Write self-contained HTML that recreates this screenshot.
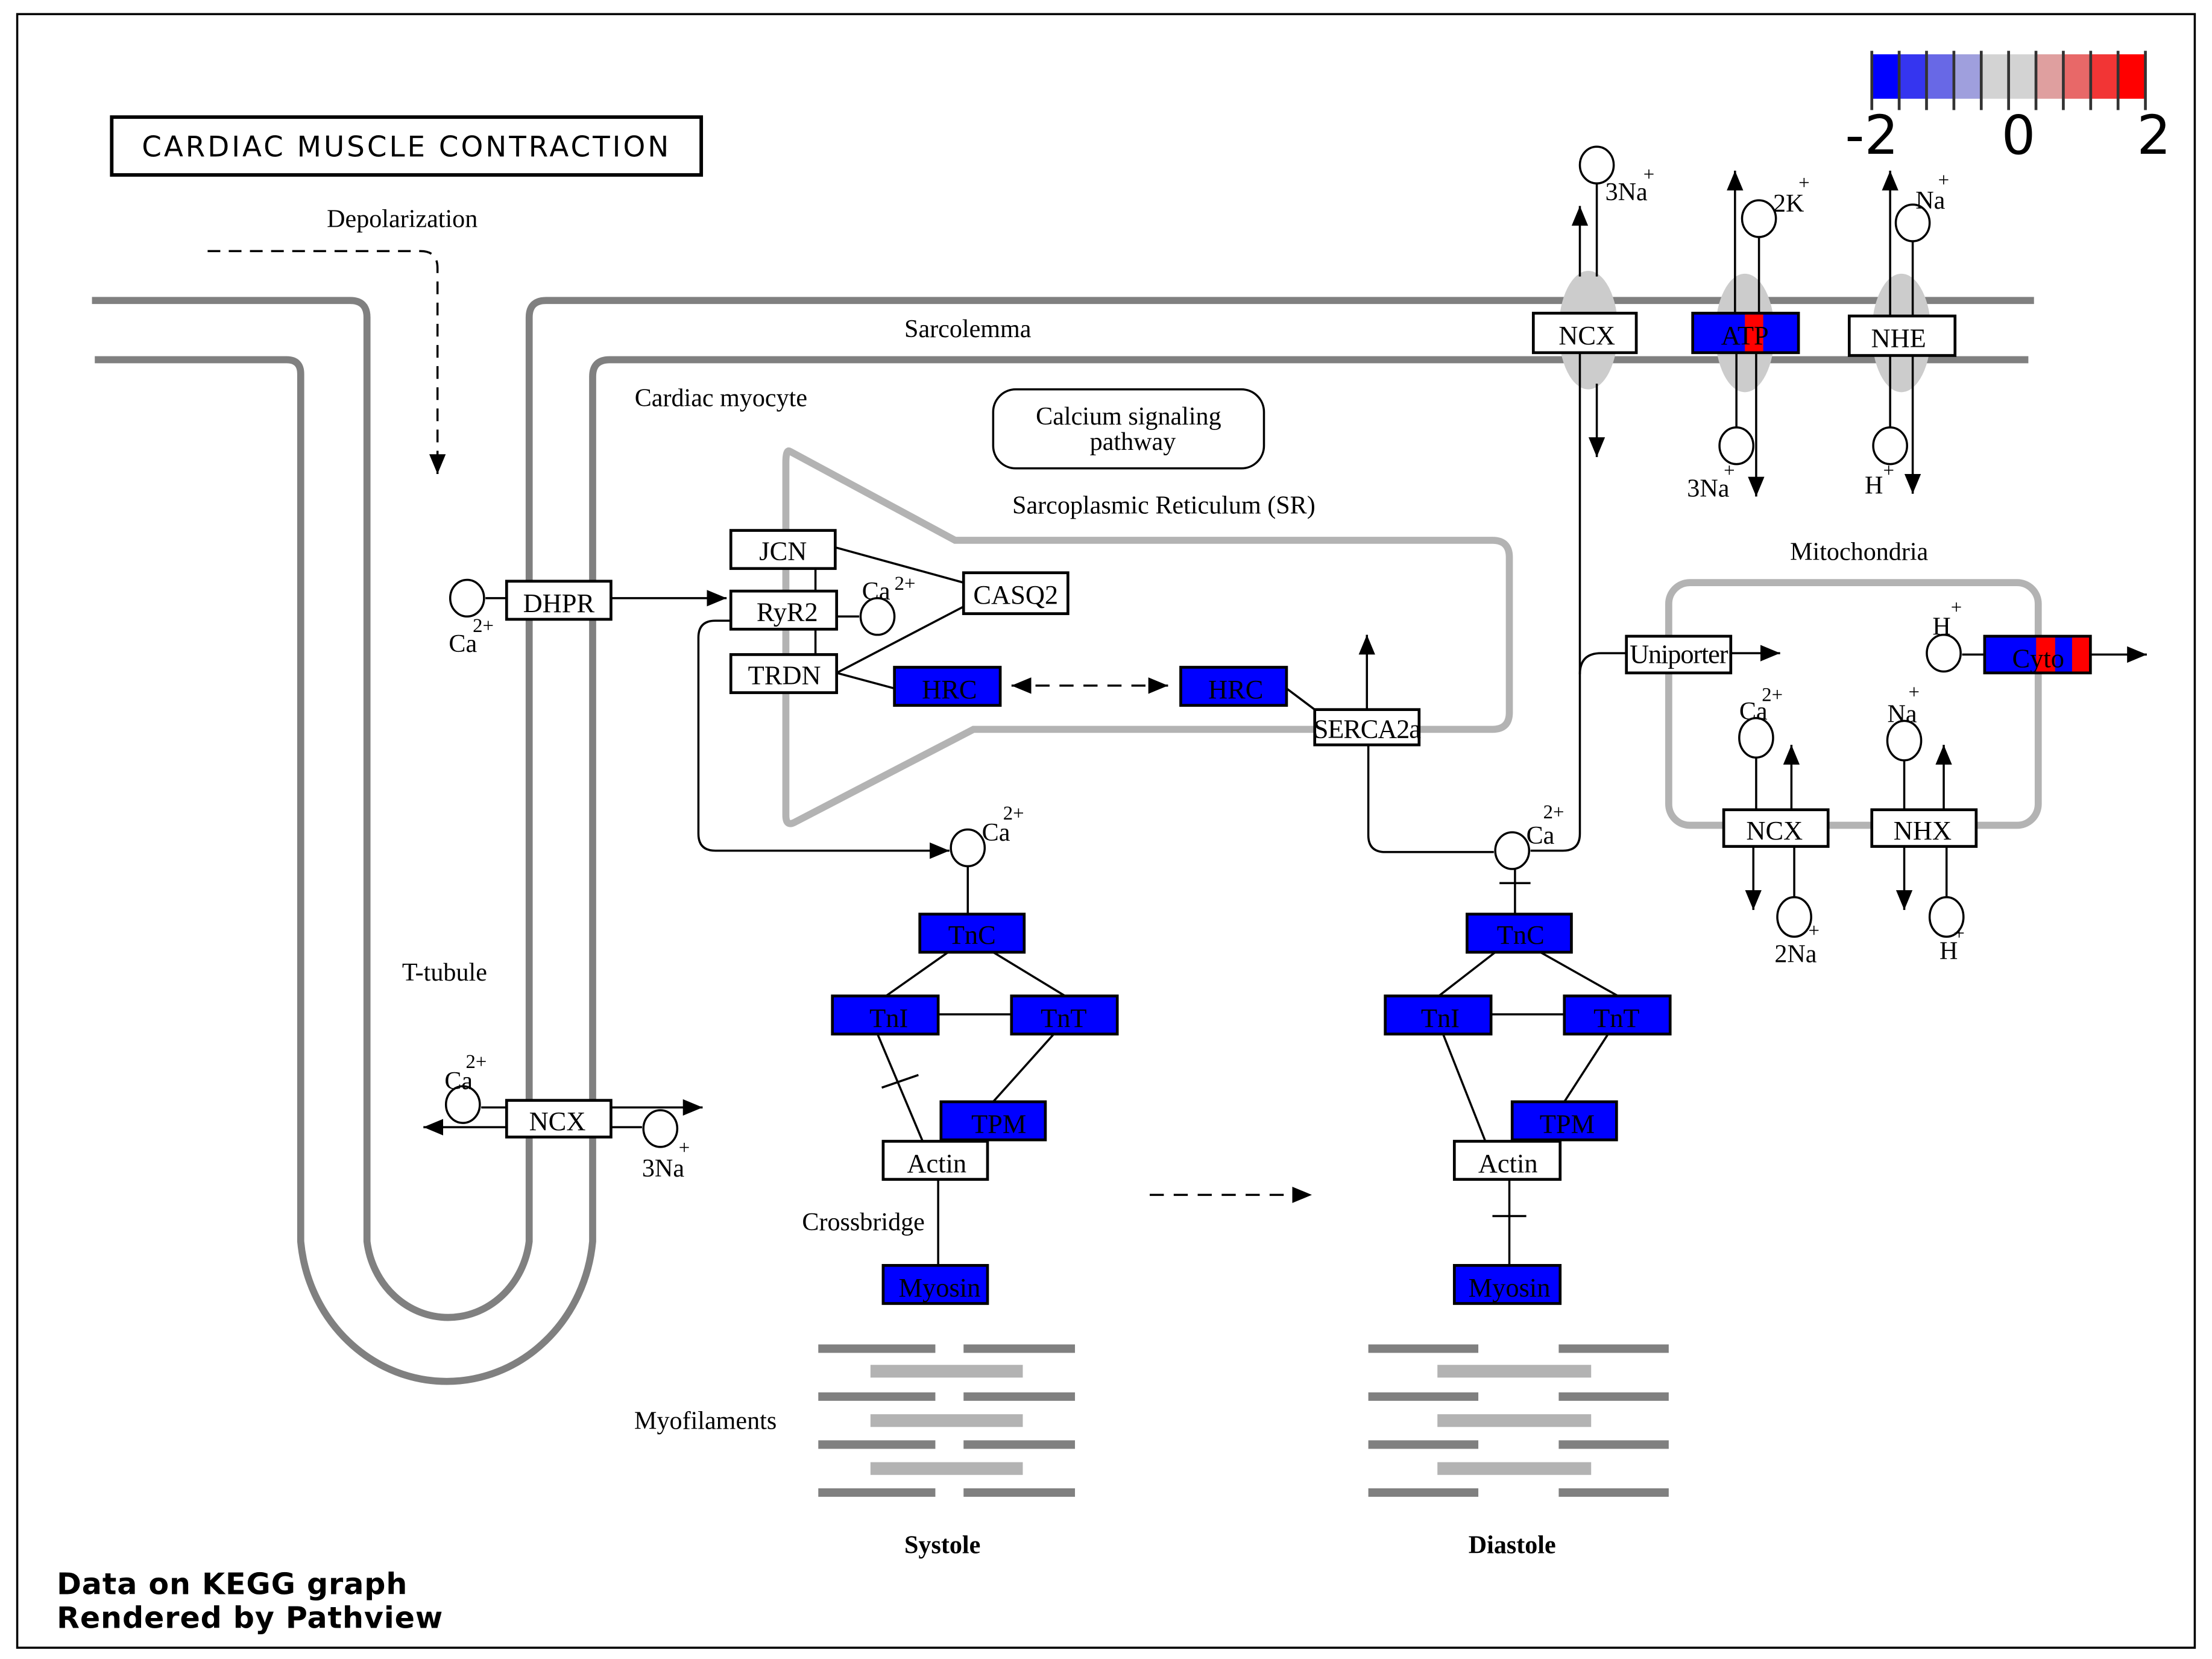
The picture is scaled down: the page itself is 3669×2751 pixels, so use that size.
<!DOCTYPE html>
<html><head><meta charset="utf-8"><style>
html,body{margin:0;padding:0;background:#fff;}
svg{display:block;}
text{font-family:"Liberation Serif","DejaVu Serif",serif;}
text.sans{font-family:"DejaVu Sans","Liberation Sans",sans-serif;}
</style></head><body>
<svg width="3669" height="2751" viewBox="0 0 1568 1176" xmlns="http://www.w3.org/2000/svg">
<defs>
<marker id="a" viewBox="0 0 12 12" refX="12" refY="6" markerWidth="14" markerHeight="14" orient="auto" markerUnits="userSpaceOnUse"><path d="M0,1 L12,6 L0,11 z" fill="#000"/></marker>
<marker id="as" viewBox="0 0 12 12" refX="0" refY="6" markerWidth="14" markerHeight="14" orient="auto" markerUnits="userSpaceOnUse"><path d="M12,1 L0,6 L12,11 z" fill="#000"/></marker>
</defs>
<rect x="0" y="0" width="1568" height="1176" fill="#fff"/>
<rect x="12" y="10" width="1544" height="1158" fill="none" stroke="#000" stroke-width="1.5"/>

<g>
<rect x="1327" y="38.5" width="19.4" height="31.5" fill="#0000ff"/>
<rect x="1346.4" y="38.5" width="19.4" height="31.5" fill="#3535f0"/>
<rect x="1365.8" y="38.5" width="19.4" height="31.5" fill="#6868e6"/>
<rect x="1385.2" y="38.5" width="19.4" height="31.5" fill="#9f9fdd"/>
<rect x="1404.6" y="38.5" width="38.8" height="31.5" fill="#d3d3d3"/>
<rect x="1443.4" y="38.5" width="19.4" height="31.5" fill="#df9f9f"/>
<rect x="1462.8" y="38.5" width="19.4" height="31.5" fill="#e86868"/>
<rect x="1482.2" y="38.5" width="19.4" height="31.5" fill="#f23535"/>
<rect x="1501.6" y="38.5" width="19.4" height="31.5" fill="#ff0000"/>
<g stroke="#333" stroke-width="2">
<line x1="1327" y1="36" x2="1327" y2="78"/><line x1="1346.4" y1="36" x2="1346.4" y2="78"/><line x1="1365.8" y1="36" x2="1365.8" y2="78"/><line x1="1385.2" y1="36" x2="1385.2" y2="78"/><line x1="1404.6" y1="36" x2="1404.6" y2="78"/><line x1="1424" y1="36" x2="1424" y2="78"/><line x1="1443.4" y1="36" x2="1443.4" y2="78"/><line x1="1462.8" y1="36" x2="1462.8" y2="78"/><line x1="1482.2" y1="36" x2="1482.2" y2="78"/><line x1="1501.6" y1="36" x2="1501.6" y2="78"/><line x1="1521" y1="36" x2="1521" y2="78"/>
</g>
<g font-size="38" fill="#000" text-anchor="middle">
<text class="sans" x="1327" y="109">-2</text><text class="sans" x="1431" y="109">0</text><text class="sans" x="1527" y="109">2</text>
</g>
</g>

<rect x="79" y="83" width="418" height="41" fill="#fff" stroke="#000" stroke-width="2.5"/>
<text class="sans" x="288" y="111" font-size="20" text-anchor="middle" letter-spacing="1.7">CARDIAC MUSCLE CONTRACTION</text>

<g fill="none" stroke="#808080" stroke-width="5">
<path d="M65,213 L248,213 Q260,213 260,225 L260,880 A58,62 0 0 0 375,880 L375,225 Q375,213 387,213 L1442,213"/>
<path d="M67,255 L203,255 Q213,255 213,265 L213,880 A104,110 0 0 0 420,880 L420,267 Q420,255 432,255 L1438,255"/>
</g>
<path d="M560,320 L677,383 L1058,383 Q1070,383 1070,395 L1070,505 Q1070,517 1058,517 L690,517 L563,583 Q557,586 557,578 L557,328 Q557,318 560,320 Z" fill="none" stroke="#b3b3b3" stroke-width="5"/>
<rect x="1183" y="413" width="262" height="172" rx="15" fill="none" stroke="#b3b3b3" stroke-width="5"/>
<g fill="#cccccc">
<ellipse cx="1126" cy="234" rx="21" ry="42"/><ellipse cx="1237" cy="236" rx="21" ry="42"/><ellipse cx="1348" cy="236" rx="21" ry="42"/>
</g>

<path d="M147,178 L298,178 Q310,178 310,190 L310,336" fill="none" stroke="#000" stroke-width="1.5" stroke-dasharray="9,6" marker-end="url(#a)"/>

<g font-size="18" fill="#000" text-anchor="middle">
<text x="285" y="161">Depolarization</text>
<text x="686" y="239">Sarcolemma</text>
<text x="511" y="288">Cardiac myocyte</text>
<text x="825" y="364">Sarcoplasmic Reticulum (SR)</text>
<text x="1318" y="397">Mitochondria</text>
<text x="315" y="695">T-tubule</text>
<text x="612" y="872">Crossbridge</text>
<text x="500" y="1013">Myofilaments</text>
<text x="668" y="1101" font-weight="bold">Systole</text>
<text x="1072" y="1101" font-weight="bold">Diastole</text>
</g>
<rect x="704" y="276" width="192" height="56" rx="16" fill="#fff" stroke="#000" stroke-width="1.5"/>
<text x="800" y="301" font-size="18" text-anchor="middle">Calcium signaling</text>
<text x="803" y="319" font-size="18" text-anchor="middle">pathway</text>

<g font-size="21" font-weight="bold">
<text class="sans" x="40" y="1130" letter-spacing="0.4">Data on KEGG graph</text>
<text class="sans" x="40" y="1154" letter-spacing="0.4">Rendered by Pathview</text>
</g>

<g stroke="#808080" stroke-width="6">
<line x1="580" y1="956" x2="663" y2="956"/><line x1="683" y1="956" x2="762" y2="956"/>
<line x1="580" y1="990" x2="663" y2="990"/><line x1="683" y1="990" x2="762" y2="990"/>
<line x1="580" y1="1024" x2="663" y2="1024"/><line x1="683" y1="1024" x2="762" y2="1024"/>
<line x1="580" y1="1058" x2="663" y2="1058"/><line x1="683" y1="1058" x2="762" y2="1058"/>
<line x1="970" y1="956" x2="1048" y2="956"/><line x1="1105" y1="956" x2="1183" y2="956"/>
<line x1="970" y1="990" x2="1048" y2="990"/><line x1="1105" y1="990" x2="1183" y2="990"/>
<line x1="970" y1="1024" x2="1048" y2="1024"/><line x1="1105" y1="1024" x2="1183" y2="1024"/>
<line x1="970" y1="1058" x2="1048" y2="1058"/><line x1="1105" y1="1058" x2="1183" y2="1058"/>
</g>
<g stroke="#b3b3b3" stroke-width="9">
<line x1="617" y1="972" x2="725" y2="972"/><line x1="617" y1="1007" x2="725" y2="1007"/><line x1="617" y1="1041" x2="725" y2="1041"/>
<line x1="1019" y1="972" x2="1128" y2="972"/><line x1="1019" y1="1007" x2="1128" y2="1007"/><line x1="1019" y1="1041" x2="1128" y2="1041"/>
</g>

<g fill="none" stroke="#000" stroke-width="1.5">
<line x1="344" y1="424" x2="359" y2="424"/>
<line x1="433" y1="424" x2="515" y2="424" marker-end="url(#a)"/>
<line x1="578" y1="403" x2="578" y2="419"/><line x1="578" y1="446" x2="578" y2="464"/>
<line x1="592" y1="388" x2="683" y2="413"/>
<line x1="593" y1="437" x2="609" y2="437"/>
<line x1="593" y1="477" x2="683" y2="430"/>
<line x1="593" y1="477" x2="634" y2="488"/>
<line x1="717" y1="486" x2="828" y2="486" stroke-dasharray="10,7" marker-start="url(#as)" marker-end="url(#a)"/>
<line x1="912" y1="488" x2="932" y2="503"/>
<line x1="969" y1="503" x2="969" y2="450" marker-end="url(#a)"/>
<path d="M970,528 L970,592 Q970,604 982,604 L1059,604"/>
<path d="M518,440 L507,440 Q495,440 495,452 L495,591 Q495,603 507,603 L673,603" marker-end="url(#a)"/>
<line x1="686" y1="614" x2="686" y2="648"/>
<line x1="672" y1="675" x2="628" y2="706"/><line x1="704" y1="675" x2="755" y2="706"/>
<line x1="665" y1="719" x2="717" y2="719"/>
<line x1="622" y1="733" x2="654" y2="809"/><line x1="625" y1="771" x2="651" y2="762"/>
<line x1="747" y1="733" x2="704" y2="781"/>
<line x1="665" y1="836" x2="665" y2="897"/>
<line x1="815" y1="847" x2="930" y2="847" stroke-dasharray="10,7" marker-end="url(#a)"/>
<line x1="1074" y1="616" x2="1074" y2="648"/><line x1="1063" y1="626" x2="1085" y2="626"/>
<line x1="1060" y1="675" x2="1020" y2="706"/><line x1="1092" y1="675" x2="1147" y2="706"/>
<line x1="1057" y1="719" x2="1109" y2="719"/>
<line x1="1023" y1="733" x2="1053" y2="809"/>
<line x1="1140" y1="733" x2="1109" y2="781"/>
<line x1="1070" y1="836" x2="1070" y2="897"/><line x1="1058" y1="862" x2="1082" y2="862"/>
<path d="M1085,603 L1108,603 Q1120,603 1120,591 L1120,250"/>
<path d="M1120,478 Q1120,463 1135,463 L1153,463"/>
<line x1="1227" y1="463" x2="1262" y2="463" marker-end="url(#a)"/>
<line x1="1391" y1="464" x2="1407" y2="464"/>
<line x1="1482" y1="464" x2="1522" y2="464" marker-end="url(#a)"/>
<line x1="1120" y1="196" x2="1120" y2="146" marker-end="url(#a)"/>
<line x1="1132" y1="130" x2="1132" y2="196"/>
<line x1="1132" y1="272" x2="1132" y2="324" marker-end="url(#a)"/>
<line x1="1230" y1="222" x2="1230" y2="121" marker-end="url(#a)"/>
<line x1="1247" y1="168" x2="1247" y2="222"/>
<line x1="1231" y1="250" x2="1231" y2="303"/>
<line x1="1245" y1="250" x2="1245" y2="352" marker-end="url(#a)"/>
<line x1="1340" y1="224" x2="1340" y2="121" marker-end="url(#a)"/>
<line x1="1356" y1="171" x2="1356" y2="224"/>
<line x1="1340" y1="252" x2="1340" y2="303"/>
<line x1="1356" y1="252" x2="1356" y2="350" marker-end="url(#a)"/>
<line x1="1245" y1="537" x2="1245" y2="574"/>
<line x1="1270" y1="574" x2="1270" y2="528" marker-end="url(#a)"/>
<line x1="1243" y1="600" x2="1243" y2="645" marker-end="url(#a)"/>
<line x1="1272" y1="600" x2="1272" y2="637"/>
<line x1="1350" y1="539" x2="1350" y2="574"/>
<line x1="1378" y1="574" x2="1378" y2="528" marker-end="url(#a)"/>
<line x1="1350" y1="600" x2="1350" y2="645" marker-end="url(#a)"/>
<line x1="1380" y1="600" x2="1380" y2="637"/>
<line x1="341" y1="785" x2="359" y2="785"/>
<line x1="433" y1="785" x2="498" y2="785" marker-end="url(#a)"/>
<line x1="359" y1="799" x2="300" y2="799" marker-end="url(#a)"/>
<line x1="433" y1="799" x2="455" y2="799"/>
</g>

<g fill="#fff" stroke="#000" stroke-width="1.5">
<ellipse cx="331" cy="424" rx="12" ry="13"/>
<ellipse cx="622" cy="437" rx="12" ry="13"/>
<ellipse cx="686" cy="601" rx="12" ry="13"/>
<ellipse cx="1072" cy="603" rx="12" ry="13"/>
<ellipse cx="1132" cy="117" rx="12" ry="13"/>
<ellipse cx="1247" cy="155" rx="12" ry="13"/>
<ellipse cx="1356" cy="158" rx="12" ry="13"/>
<ellipse cx="1231" cy="316" rx="12" ry="13"/>
<ellipse cx="1340" cy="316" rx="12" ry="13"/>
<ellipse cx="1378" cy="463" rx="12" ry="13"/>
<ellipse cx="1245" cy="523" rx="12" ry="14"/>
<ellipse cx="1350" cy="525" rx="12" ry="14"/>
<ellipse cx="1272" cy="650" rx="12" ry="14"/>
<ellipse cx="1380" cy="650" rx="12" ry="14"/>
<ellipse cx="328" cy="783" rx="12" ry="13"/>
<ellipse cx="468" cy="800" rx="12" ry="13"/>
</g>

<g font-size="18" fill="#000">
<text x="318" y="462">Ca</text><text x="335" y="448" font-size="14">2+</text>
<text x="611" y="425">Ca</text><text x="634" y="418" font-size="14">2+</text>
<text x="696" y="596">Ca</text><text x="711" y="581" font-size="14">2+</text>
<text x="1082" y="598">Ca</text><text x="1094" y="580" font-size="14">2+</text>
<text x="1138" y="142">3Na</text><text x="1165" y="128" font-size="14">+</text>
<text x="1257" y="150">2K</text><text x="1275" y="134" font-size="14">+</text>
<text x="1358" y="148">Na</text><text x="1374" y="132" font-size="14">+</text>
<text x="1196" y="352">3Na</text><text x="1222" y="338" font-size="14">+</text>
<text x="1322" y="350">H</text><text x="1335" y="338" font-size="14">+</text>
<text x="1370" y="450">H</text><text x="1383" y="435" font-size="14">+</text>
<text x="1233" y="510">Ca</text><text x="1249" y="497" font-size="14">2+</text>
<text x="1338" y="512">Na</text><text x="1353" y="495" font-size="14">+</text>
<text x="1258" y="682">2Na</text><text x="1282" y="664" font-size="14">+</text>
<text x="1375" y="680">H</text><text x="1385" y="666" font-size="14">+</text>
<text x="315" y="772">Ca</text><text x="330" y="757" font-size="14">2+</text>
<text x="455" y="834">3Na</text><text x="481" y="818" font-size="14">+</text>
</g>

<g stroke="#000" stroke-width="2">
<rect x="518" y="376" width="74" height="27" fill="#fff"/>
<rect x="518" y="419" width="75" height="27" fill="#fff"/>
<rect x="518" y="464" width="75" height="27" fill="#fff"/>
<rect x="683" y="406" width="74" height="29" fill="#fff"/>
<rect x="359" y="412" width="74" height="27" fill="#fff"/>
<rect x="634" y="473" width="75" height="27" fill="#0000ff"/>
<rect x="837" y="473" width="75" height="27" fill="#0000ff"/>
<rect x="932" y="503" width="74" height="25" fill="#fff"/>
<rect x="1087" y="222" width="73" height="28" fill="#fff"/>
<rect x="1200" y="222" width="75" height="28" fill="#0000ff"/>
<rect x="1311" y="224" width="75" height="28" fill="#fff"/>
<rect x="1153" y="451" width="74" height="26" fill="#fff"/>
<rect x="1407" y="451" width="75" height="26" fill="#0000ff"/>
<rect x="1222" y="574" width="74" height="26" fill="#fff"/>
<rect x="1327" y="574" width="74" height="26" fill="#fff"/>
<rect x="652" y="648" width="74" height="27" fill="#0000ff"/>
<rect x="590" y="706" width="75" height="27" fill="#0000ff"/>
<rect x="717" y="706" width="75" height="27" fill="#0000ff"/>
<rect x="667" y="781" width="74" height="27" fill="#0000ff"/>
<rect x="626" y="809" width="74" height="27" fill="#fff"/>
<rect x="626" y="897" width="74" height="27" fill="#0000ff"/>
<rect x="1040" y="648" width="74" height="27" fill="#0000ff"/>
<rect x="982" y="706" width="75" height="27" fill="#0000ff"/>
<rect x="1109" y="706" width="75" height="27" fill="#0000ff"/>
<rect x="1072" y="781" width="74" height="27" fill="#0000ff"/>
<rect x="1031" y="809" width="75" height="27" fill="#fff"/>
<rect x="1031" y="897" width="75" height="27" fill="#0000ff"/>
<rect x="359" y="780" width="74" height="26" fill="#fff"/>
</g>
<g fill="#ff0000">
<rect x="1237" y="223" width="13" height="26"/>
<rect x="1443.5" y="452" width="13.5" height="24"/>
<rect x="1469" y="452" width="12" height="24"/>
</g>
<g font-size="19" fill="#000" text-anchor="middle">
<text x="555" y="397">JCN</text>
<text x="558" y="440">RyR2</text>
<text x="556" y="485">TRDN</text>
<text x="720" y="428">CASQ2</text>
<text x="396" y="434">DHPR</text>
<text x="673" y="495">HRC</text>
<text x="876" y="495">HRC</text>
<text x="969" y="523" letter-spacing="-0.5">SERCA2a</text>
<text x="1125" y="244">NCX</text>
<text x="1237" y="244">ATP</text>
<text x="1346" y="246">NHE</text>
<text x="1190" y="470" letter-spacing="-0.5">Uniporter</text>
<text x="1445" y="473">Cyto</text>
<text x="1258" y="595">NCX</text>
<text x="1363" y="595">NHX</text>
<text x="689" y="669">TnC</text>
<text x="630" y="728">TnI</text>
<text x="754" y="728">TnT</text>
<text x="708" y="803">TPM</text>
<text x="664" y="831">Actin</text>
<text x="666" y="919">Myosin</text>
<text x="1078" y="669">TnC</text>
<text x="1021" y="728">TnI</text>
<text x="1146" y="728">TnT</text>
<text x="1111" y="803">TPM</text>
<text x="1069" y="831">Actin</text>
<text x="1070" y="919">Myosin</text>
<text x="395" y="801">NCX</text>
</g>
</svg>
</body></html>
